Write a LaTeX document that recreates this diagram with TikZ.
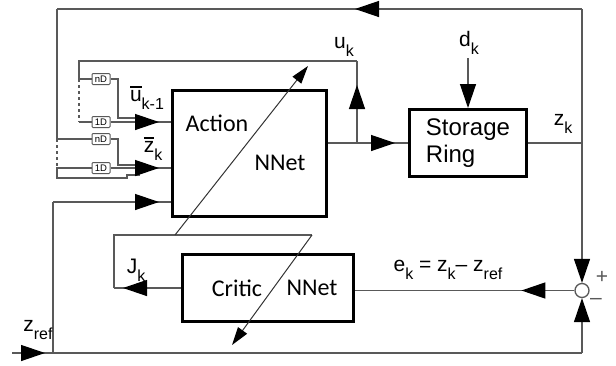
\documentclass[tikz,border=0pt]{standalone}
\usepackage{fontspec}
\setmainfont{Liberation Sans}
\newfontfamily\netfont{Carlito}
\usetikzlibrary{arrows.meta,decorations.markings}

\colorlet{wiregray}{black!65}
\newcommand{\sub}[1]{\raisebox{-0.4em}{\fontsize{16}{16}\selectfont #1}}
\newcommand{\barred}[1]{\setbox0\hbox{#1}%
  \rlap{\raisebox{\dimexpr\ht0+2.5pt\relax}{\rule{\wd0}{1.3pt}}}\box0}

\tikzset{
  bigtip/.tip={Triangle[length=24pt,width=16pt,color=black]},
  smalltip/.tip={Triangle[length=18pt,width=11pt,color=black]},
  arrowat/.style={postaction={decorate},
    decoration={markings,mark=at position #1 with {\arrow{bigtip}}}},
  wire/.style={draw=wiregray,line width=1.3pt},
  train/.style={draw=black!80,line width=1pt},
  block/.style={draw,line width=3pt,inner sep=0pt},
  delay/.style={draw=wiregray,line width=1pt,fill=white,inner sep=0pt,
    rounded corners=1pt,minimum width=18pt,minimum height=11pt,
    font=\fontsize{9.5}{9.5}\selectfont},
  nettext/.style={font=\netfont\fontsize{24}{24}\selectfont,inner sep=0pt},
  lbl/.style={font=\fontsize{21}{21}\selectfont,inner sep=0pt}
}

\begin{document}
\begin{tikzpicture}[x=1pt,y=-1pt]
\useasboundingbox (0,0) rectangle (616,365);

% Blocks
\node[block,minimum width=154pt,minimum height=126pt] (act) at (249.5,153.5) {};
\node[nettext] (acttext) at (217,123) {Action};
\node[nettext] (actnet) at (280,163) {NNet};
\node[block,minimum width=117pt,minimum height=67pt,align=left,
  font=\fontsize{24}{27}\selectfont] (ring) at (468,143) {Storage\\Ring};
\node[block,minimum width=171pt,minimum height=67pt] (crit) at (268,288) {};
\node[nettext] (crittext) at (237,288) {Critic};
\node[nettext] (critnet) at (312,288) {NNet};
\node[circle,draw=wiregray,line width=1.3pt,fill=white,minimum size=14pt,
  inner sep=0pt] (sum) at (582,290.5) {};

% Delays
\node[delay] (nDu) at (101,79) {nD};
\node[delay] (oneDu) at (101,122) {1D};
\node[delay] (nDz) at (101,139) {nD};
\node[delay] (oneDz) at (101,168) {1D};

% Corners
\coordinate (uk) at (357,143);
\coordinate (ufb) at (357,61);
\coordinate (uleft) at (79,61);
\coordinate (dk) at (468,58);
\coordinate (zk) at (582,143);
\coordinate (ztop) at (582,9);
\coordinate (zleft) at (57,9);
\coordinate (zbot) at (57,178);
\coordinate (zin) at (127,178);
\coordinate (zref) at (12,353);
\coordinate (zrefup) at (53,353);
\coordinate (zrefin) at (53,202);
\coordinate (ebot) at (582,353);
\coordinate (jk) at (114,288);
\coordinate (jtop) at (114,235);
\coordinate (jright) at (312,235);
\coordinate (critend) at (232,345);
\coordinate (actstart) at (175,235);
\coordinate (actend) at (308,66);

% Action output to storage ring
\draw[wire] (act.east |- uk) -- (uk);
\draw[wire,arrowat=-13pt] (uk) -- (ring.west |- uk);
\draw[wire,-bigtip] (dk) -- (ring.north);

% u_k fed back through delays
\draw[wire,arrowat=58pt] (uk) -- (ufb);
\draw[wire] (ufb) -- (uleft) |- (nDu.west);
\draw[wire,dashed] (nDu.west -| uleft) -- (oneDu.west -| uleft);
\draw[wire] (oneDu.west -| uleft) -- (oneDu.west);
\draw[wire] (nDu.east) -| (118,118) -- (140,118);
\draw[wire,arrowat=-12pt] (oneDu.east) -- (act.west |- oneDu);

% z_k fed back through delays
\draw[wire] (ring.east) -- (zk) -- (ztop);
\draw[wire,arrowat=227pt] (ztop) -- (zleft);
\draw[wire] (zleft) |- (nDz.west);
\draw[wire,dashed] (nDz.west -| zleft) -- (oneDz.west -| zleft);
\draw[wire] (oneDz.west) -| (zbot) -- (zin) -- ++(0,-3) -- ++(13,0);
\draw[wire] (nDz.east) -| (118,165) -- (140,165);
\draw[wire,arrowat=-12pt] (oneDz.east) -- (act.west |- oneDz);

% Reference
\draw[wire,arrowat=33pt] (zref) -- (zrefup);
\draw[wire] (zrefup) -- (zrefin);
\draw[wire,arrowat=-12pt] (zrefin) -- (act.west |- zrefin);
\draw[wire] (zrefup) -- (ebot);
\draw[wire,-bigtip] (ebot) -- (sum.south);
\draw[wire,-bigtip] (zk) -- (sum.north);

% Critic
\draw[wire,arrowat=53pt] (sum.west) -- (crit.east |- sum.west);
\draw[wire,arrowat=-9pt] (crit.west) -- (jk);
\draw[wire] (jk) -- (jtop) -- (jright);
\draw[train,-smalltip] (jright) -- (critend);
\draw[train,-smalltip] (actstart) -- (actend);

% Labels
\node[lbl] (uklab) at (344,47) {u\sub{k}};
\node[lbl] (dklab) at (469,43) {d\sub{k}};
\node[lbl] (zklab) at (563,124) {z\sub{k}};
\node[lbl] (ubarlab) at (147,98) {\barred{u}\sub{k-1}};
\node[lbl] (zbarlab) at (153,149) {\barred{z}\sub{k}};
\node[lbl] (jklab) at (136,270) {J\sub{k}};
\node[lbl] (eklab) at (448,270) {e\sub{k} = z\sub{k}{\textendash} z\sub{ref}};
\node[lbl] (zreflab) at (38,330) {z\sub{ref}};
\node[lbl,text=wiregray] (plus) at (602,277) {+};
\node[lbl,text=wiregray] (minus) at (596,301) {\textendash};

\end{tikzpicture}
\end{document}
